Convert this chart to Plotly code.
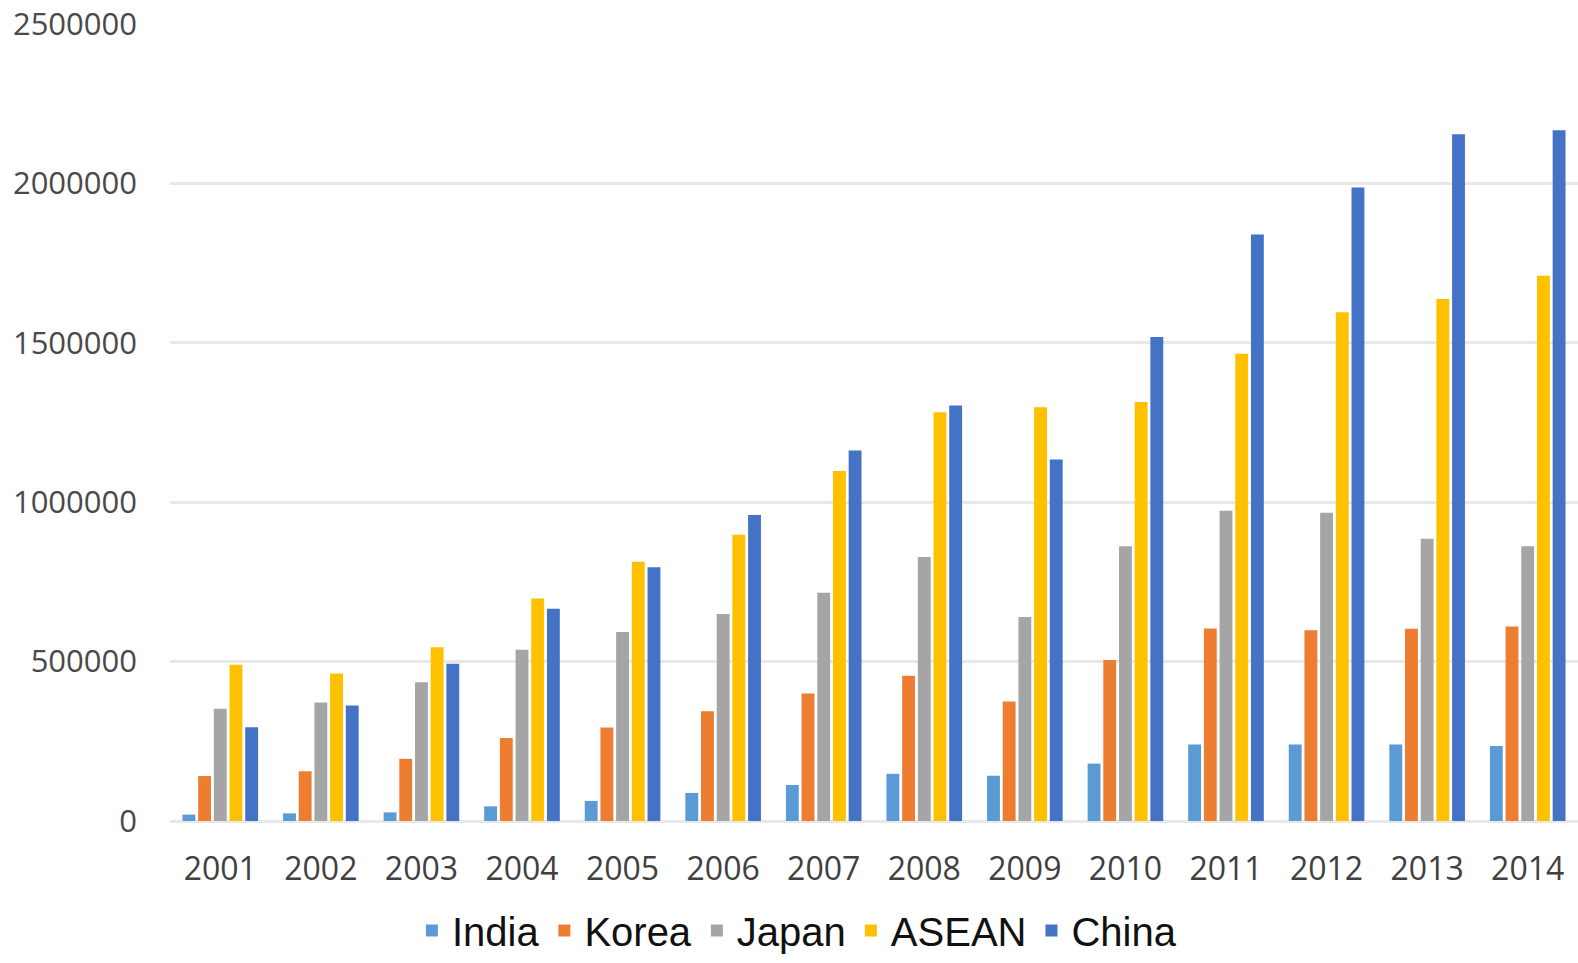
import plotly.graph_objects as go

years = ["2001", "2002", "2003", "2004", "2005", "2006", "2007",
         "2008", "2009", "2010", "2011", "2012", "2013", "2014"]

india = [20000, 24000, 27000, 46000, 63000, 88000, 113000,
         148000, 142000, 180000, 240000, 240000, 240000, 235000]
korea = [141000, 156000, 195000, 260000, 293000, 344000, 400000,
         456000, 375000, 505000, 604000, 598000, 603000, 610000]
japan = [352000, 372000, 435000, 537000, 593000, 649000, 716000,
         828000, 640000, 862000, 973000, 967000, 885000, 862000]
asean = [490000, 463000, 545000, 698000, 813000, 898000, 1098000,
         1282000, 1298000, 1314000, 1466000, 1596000, 1637000, 1710000]
china = [294000, 362000, 493000, 666000, 796000, 960000, 1162000,
         1303000, 1134000, 1518000, 1840000, 1987000, 2154000, 2167000]

series = [
    ("India", india, "#5b9bd5"),
    ("Korea", korea, "#ed7d31"),
    ("Japan", japan, "#a5a5a5"),
    ("ASEAN", asean, "#ffc000"),
    ("China", china, "#4472c4"),
]

fig = go.Figure()
for name, vals, color in series:
    fig.add_trace(go.Bar(
        name=name, x=years, y=vals,
        marker=dict(color=color, line=dict(width=0)),
    ))

fig.update_layout(
    width=1578, height=963,
    margin=dict(l=170, r=0, t=24, b=142),
    paper_bgcolor="white", plot_bgcolor="white",
    barmode="group", bargap=0.22, bargroupgap=0.18,
    showlegend=True,
    legend=dict(
        orientation="h", xref="container", yref="container",
        x=0.505, xanchor="center", y=0.0, yanchor="bottom",
        font=dict(family="Liberation Sans, Arial", size=40, color="#111111"),
        itemwidth=30, tracegroupgap=0, borderwidth=0,
        bgcolor="rgba(0,0,0,0)",
    ),
    font=dict(family="Open Sans", color="#4a4a4a"),
)

fig.update_yaxes(
    range=[0, 2500000], dtick=500000, tickformat="d",
    showgrid=True, gridcolor="#e8e8e8", gridwidth=3,
    zeroline=True, zerolinecolor="#e8e8e8", zerolinewidth=3,
    showline=False, ticks="", ticklabelstandoff=32,
    tickfont=dict(family="Open Sans", size=31, color="#4a4a4a"),
)
fig.update_xaxes(
    showgrid=False, showline=False, ticks="", ticklabelstandoff=26,
    tickfont=dict(family="Open Sans", size=32, color="#404040"),
)

fig.write_html("out.html")
